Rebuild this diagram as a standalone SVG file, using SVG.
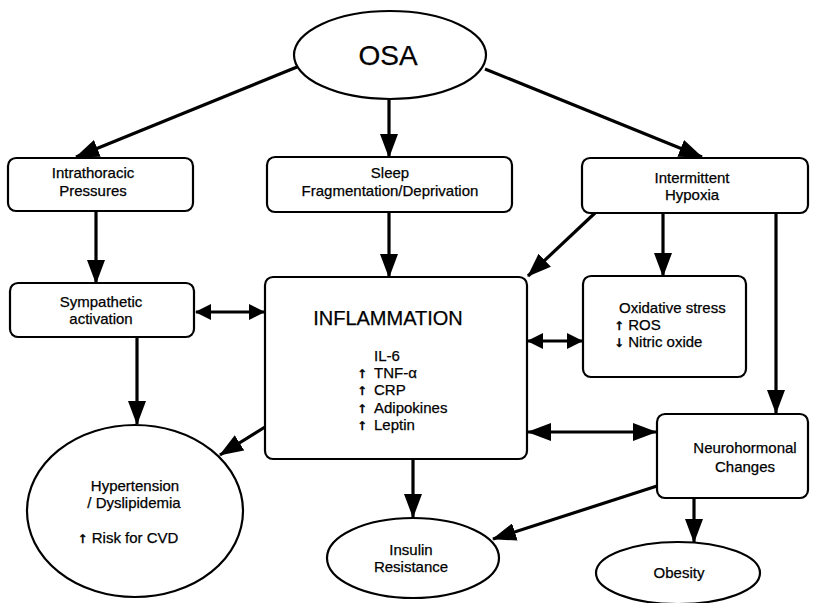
<svg xmlns="http://www.w3.org/2000/svg" width="821" height="603" viewBox="0 0 821 603">
<defs>
<style>
.box{fill:#fff;stroke:#000;stroke-width:2.2}
.t{font-family:"Liberation Sans",Arial,sans-serif;font-size:15px;fill:#000;stroke:#000;stroke-width:0.25}
.c{text-anchor:middle}
.ar{font-family:"DejaVu Sans",sans-serif;font-size:12px;font-weight:bold}
.ln{stroke:#000;stroke-width:3.2;fill:none}
</style>
<marker id="ah" markerUnits="userSpaceOnUse" markerWidth="24" markerHeight="18" refX="23" refY="9" orient="auto-start-reverse" viewBox="0 0 24 18">
<path d="M0,0 L24,9 L0,18 Z" fill="#000"/>
</marker>
<marker id="as" markerUnits="userSpaceOnUse" markerWidth="16" markerHeight="16" refX="15" refY="8" orient="auto-start-reverse" viewBox="0 0 16 16">
<path d="M0,0 L16,8 L0,16 Z" fill="#000"/>
</marker>
</defs>
<rect width="821" height="603" fill="#fff"/>

<g id="connectors">
<line class="ln" x1="297" y1="67" x2="76" y2="157" marker-end="url(#ah)"/>
<line class="ln" x1="389" y1="100" x2="389" y2="157" marker-end="url(#ah)"/>
<line class="ln" x1="485" y1="69" x2="702" y2="157" marker-end="url(#ah)"/>
<line class="ln" x1="96" y1="211" x2="96" y2="283" marker-end="url(#ah)"/>
<line class="ln" x1="389" y1="212" x2="389" y2="277" marker-end="url(#ah)"/>
<line class="ln" x1="595" y1="213" x2="528" y2="276" marker-end="url(#ah)"/>
<line class="ln" x1="663" y1="213" x2="663" y2="276" marker-end="url(#ah)"/>
<line class="ln" x1="776" y1="213" x2="776" y2="413" marker-end="url(#ah)"/>
<line class="ln" x1="196" y1="312" x2="264" y2="312" marker-start="url(#as)" marker-end="url(#as)"/>
<line class="ln" x1="528" y1="341" x2="582" y2="341" marker-start="url(#as)" marker-end="url(#as)"/>
<line class="ln" x1="528" y1="432" x2="656" y2="432" marker-start="url(#ah)" marker-end="url(#ah)"/>
<line class="ln" x1="137" y1="337" x2="137" y2="424" marker-end="url(#ah)"/>
<line class="ln" x1="265" y1="427" x2="220" y2="455" marker-end="url(#ah)"/>
<line class="ln" x1="413" y1="459" x2="413" y2="517" marker-end="url(#ah)"/>
<line class="ln" x1="657" y1="486" x2="493" y2="539" marker-end="url(#ah)"/>
<line class="ln" x1="694" y1="498" x2="694" y2="542" marker-end="url(#ah)"/>
</g>

<g id="osa">
<ellipse class="box" cx="390" cy="55" rx="96" ry="44"/>
<text class="t c" x="388" y="65" style="font-size:28px">OSA</text>
</g>

<g id="intrathoracic">
<rect class="box" x="8" y="158" width="185" height="53" rx="8"/>
<text class="t c" x="93" y="178">Intrathoracic</text>
<text class="t c" x="93" y="196">Pressures</text>
</g>

<g id="sleep">
<rect class="box" x="267" y="157" width="245" height="55" rx="8"/>
<text class="t c" x="390" y="178">Sleep</text>
<text class="t c" x="390" y="196">Fragmentation/Deprivation</text>
</g>

<g id="hypoxia">
<rect class="box" x="582" y="158" width="226" height="55" rx="8"/>
<text class="t c" x="692" y="183">Intermittent</text>
<text class="t c" x="692" y="200">Hypoxia</text>
</g>

<g id="sympathetic">
<rect class="box" x="10" y="283" width="184" height="54" rx="8"/>
<text class="t c" x="101" y="307">Sympathetic</text>
<text class="t c" x="101" y="324">activation</text>
</g>

<g id="inflammation">
<rect class="box" x="265" y="277" width="262" height="182" rx="8"/>
<text class="t c" x="388" y="325" style="font-size:20px">INFLAMMATION</text>
<text class="t" x="374" y="361">IL-6</text>
<text class="t ar" x="357" y="378">↑</text><text class="t" x="374" y="378">TNF-α</text>
<text class="t ar" x="357" y="395">↑</text><text class="t" x="374" y="395">CRP</text>
<text class="t ar" x="357" y="413">↑</text><text class="t" x="374" y="413">Adipokines</text>
<text class="t ar" x="357" y="430">↑</text><text class="t" x="374" y="430">Leptin</text>
</g>

<g id="oxidative">
<rect class="box" x="583" y="276" width="163" height="101" rx="8"/>
<text class="t" x="619" y="313">Oxidative stress</text>
<text class="t" x="614" y="330"><tspan class="ar">↑</tspan> ROS</text>
<text class="t" x="614" y="347"><tspan class="ar">↓</tspan> Nitric oxide</text>
</g>

<g id="neurohormonal">
<rect class="box" x="657" y="414" width="151" height="84" rx="8"/>
<text class="t c" x="745" y="453">Neurohormonal</text>
<text class="t c" x="745" y="472">Changes</text>
</g>

<g id="hypertension">
<ellipse class="box" cx="135" cy="511" rx="108" ry="86"/>
<text class="t c" x="135" y="491">Hypertension</text>
<text class="t c" x="134" y="508">/ Dyslipidemia</text>
<text class="t c" x="128" y="543"><tspan class="ar">↑</tspan> Risk for CVD</text>
</g>

<g id="insulin">
<ellipse class="box" cx="413" cy="558" rx="86" ry="40"/>
<text class="t c" x="411" y="555">Insulin</text>
<text class="t c" x="411" y="572">Resistance</text>
</g>

<g id="obesity">
<ellipse class="box" cx="678" cy="573" rx="82" ry="31"/>
<text class="t c" x="679" y="578">Obesity</text>
</g>
</svg>
